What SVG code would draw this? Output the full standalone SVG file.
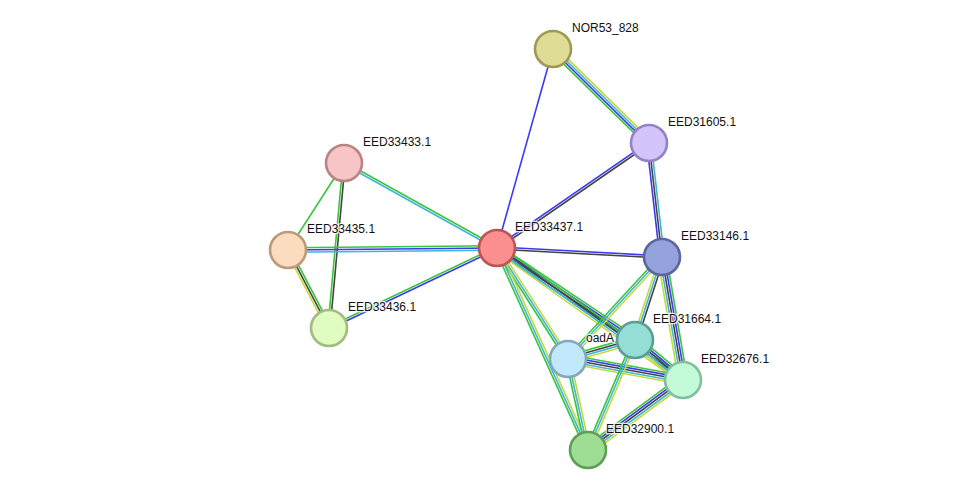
<svg xmlns="http://www.w3.org/2000/svg" width="976" height="496" viewBox="0 0 976 496">
<style>
.e line{stroke-width:1.6;fill:none}
.g{stroke:#3cc43c}
.b{stroke:#3a3af5}
.k{stroke:#444444}
.c{stroke:#3fb6d8}
.y{stroke:#c4d93c}
.n circle{stroke-width:2.6}
.n text{font-family:"Liberation Sans",Arial,sans-serif;font-size:12px;fill:#111;stroke:#fff;stroke-width:2.5;stroke-opacity:0.8;paint-order:stroke;stroke-linejoin:round}
</style>
<rect width="976" height="496" fill="#fff"/>
<g id="connectors" class="e">
  <g transform="translate(553,49) rotate(44.4)"><line class="y" x1="0" y1="-3.3" x2="134.4" y2="-3.3"/><line class="c" x1="0" y1="-1.1" x2="134.4" y2="-1.1"/><line class="b" x1="0" y1="1.1" x2="134.4" y2="1.1"/><line class="g" x1="0" y1="3.3" x2="134.4" y2="3.3"/></g>
  <line class="b" x1="553" y1="49" x2="497" y2="248"/>
  <g transform="translate(497,248) rotate(-34.6)"><line class="b" x1="0" y1="-1.1" x2="184.7" y2="-1.1"/><line class="k" x1="0" y1="1.1" x2="184.7" y2="1.1"/></g>
  <g transform="translate(649,143) rotate(83.5)"><line class="c" x1="0" y1="-2.2" x2="114.7" y2="-2.2"/><line class="k" x1="0" y1="0" x2="114.7" y2="0"/><line class="b" x1="0" y1="2.2" x2="114.7" y2="2.2"/></g>
  <g transform="translate(497,248) rotate(3.1)"><line class="b" x1="0" y1="-1.1" x2="165.2" y2="-1.1"/><line class="k" x1="0" y1="1.1" x2="165.2" y2="1.1"/></g>
  <g transform="translate(344,163) rotate(29.05)"><line class="g" x1="0" y1="-1.1" x2="175" y2="-1.1"/><line class="c" x1="0" y1="1.1" x2="175" y2="1.1"/></g>
  <line class="g" x1="288" y1="250" x2="344" y2="163"/>
  <g transform="translate(329,328) rotate(-84.8)"><line class="g" x1="0" y1="-1.1" x2="165.7" y2="-1.1"/><line class="k" x1="0" y1="1.1" x2="165.7" y2="1.1"/></g>
  <g transform="translate(288,250) rotate(-0.55)"><line class="g" x1="0" y1="-2.2" x2="209" y2="-2.2"/><line class="b" x1="0" y1="0" x2="209" y2="0"/><line class="c" x1="0" y1="2.2" x2="209" y2="2.2"/></g>
  <g transform="translate(288,250) rotate(62.3)"><line class="g" x1="0" y1="-2.2" x2="88.1" y2="-2.2"/><line class="k" x1="0" y1="0" x2="88.1" y2="0"/><line class="y" x1="0" y1="2.2" x2="88.1" y2="2.2"/></g>
  <g transform="translate(329,328) rotate(-25.5)"><line class="g" x1="0" y1="-1.1" x2="186.1" y2="-1.1"/><line class="b" x1="0" y1="1.1" x2="186.1" y2="1.1"/></g>
  <g transform="translate(497,248) rotate(33.7)"><line class="g" x1="0" y1="-3.3" x2="165.9" y2="-3.3"/><line class="b" x1="0" y1="-1.1" x2="165.9" y2="-1.1"/><line class="k" x1="0" y1="1.1" x2="165.9" y2="1.1"/><line class="c" x1="0" y1="3.3" x2="165.9" y2="3.3"/></g>
  <g transform="translate(497,248) rotate(35.4)"><line class="g" x1="0" y1="-3.3" x2="228.1" y2="-3.3"/><line class="k" x1="0" y1="-1.1" x2="228.1" y2="-1.1"/><line class="c" x1="0" y1="1.1" x2="228.1" y2="1.1"/><line class="y" x1="0" y1="3.3" x2="228.1" y2="3.3"/></g>
  <g transform="translate(497,248) rotate(57.4)"><line class="y" x1="0" y1="-2.2" x2="131.8" y2="-2.2"/><line class="c" x1="0" y1="0" x2="131.8" y2="0"/><line class="g" x1="0" y1="2.2" x2="131.8" y2="2.2"/></g>
  <g transform="translate(497,248) rotate(65.75)"><line class="y" x1="0" y1="-2.2" x2="221.6" y2="-2.2"/><line class="c" x1="0" y1="0" x2="221.6" y2="0"/><line class="g" x1="0" y1="2.2" x2="221.6" y2="2.2"/></g>
  <g transform="translate(568,359) rotate(-47.3)"><line class="g" x1="0" y1="-2.2" x2="138.7" y2="-2.2"/><line class="c" x1="0" y1="0" x2="138.7" y2="0"/><line class="y" x1="0" y1="2.2" x2="138.7" y2="2.2"/></g>
  <g transform="translate(635,340) rotate(-72)"><line class="y" x1="0" y1="-2.2" x2="87.3" y2="-2.2"/><line class="c" x1="0" y1="0" x2="87.3" y2="0"/><line class="k" x1="0" y1="2.2" x2="87.3" y2="2.2"/></g>
  <g transform="translate(662,257) rotate(80.3)"><line class="g" x1="0" y1="-4.4" x2="124.8" y2="-4.4"/><line class="b" x1="0" y1="-2.2" x2="124.8" y2="-2.2"/><line class="k" x1="0" y1="0" x2="124.8" y2="0"/><line class="c" x1="0" y1="2.2" x2="124.8" y2="2.2"/><line class="y" x1="0" y1="4.4" x2="124.8" y2="4.4"/></g>
  <g transform="translate(568,359) rotate(-15.8)"><line class="g" x1="0" y1="-3.3" x2="69.6" y2="-3.3"/><line class="k" x1="0" y1="-1.1" x2="69.6" y2="-1.1"/><line class="c" x1="0" y1="1.1" x2="69.6" y2="1.1"/><line class="y" x1="0" y1="3.3" x2="69.6" y2="3.3"/></g>
  <g transform="translate(568,359) rotate(10.35)"><line class="g" x1="0" y1="-4.4" x2="116.9" y2="-4.4"/><line class="b" x1="0" y1="-2.2" x2="116.9" y2="-2.2"/><line class="k" x1="0" y1="0" x2="116.9" y2="0"/><line class="c" x1="0" y1="2.2" x2="116.9" y2="2.2"/><line class="y" x1="0" y1="4.4" x2="116.9" y2="4.4"/></g>
  <g transform="translate(568,359) rotate(77.6)"><line class="y" x1="0" y1="-2.2" x2="93.2" y2="-2.2"/><line class="c" x1="0" y1="0" x2="93.2" y2="0"/><line class="g" x1="0" y1="2.2" x2="93.2" y2="2.2"/></g>
  <g transform="translate(588,450) rotate(-66.9)"><line class="g" x1="0" y1="-2.2" x2="119.6" y2="-2.2"/><line class="c" x1="0" y1="0" x2="119.6" y2="0"/><line class="y" x1="0" y1="2.2" x2="119.6" y2="2.2"/></g>
  <g transform="translate(635,340) rotate(39.8)"><line class="g" x1="0" y1="-4.4" x2="62.5" y2="-4.4"/><line class="b" x1="0" y1="-2.2" x2="62.5" y2="-2.2"/><line class="k" x1="0" y1="0" x2="62.5" y2="0"/><line class="c" x1="0" y1="2.2" x2="62.5" y2="2.2"/><line class="y" x1="0" y1="4.4" x2="62.5" y2="4.4"/></g>
  <g transform="translate(588,450) rotate(-36.4)"><line class="g" x1="0" y1="-4.4" x2="118" y2="-4.4"/><line class="b" x1="0" y1="-2.2" x2="118" y2="-2.2"/><line class="k" x1="0" y1="0" x2="118" y2="0"/><line class="c" x1="0" y1="2.2" x2="118" y2="2.2"/><line class="y" x1="0" y1="4.4" x2="118" y2="4.4"/></g>
</g>
<g id="NOR53_828" class="n"><circle cx="553" cy="49" r="18" fill="#dfdc96" stroke="#9c9a55"/><text x="572" y="32">NOR53_828</text></g>
<g id="EED31605.1" class="n"><circle cx="649" cy="143" r="18" fill="#d4c4fc" stroke="#9482c4"/><text x="668" y="126">EED31605.1</text></g>
<g id="EED33433.1" class="n"><circle cx="344" cy="163" r="18" fill="#f7c5c5" stroke="#b88484"/><text x="363" y="146">EED33433.1</text></g>
<g id="EED33435.1" class="n"><circle cx="288" cy="250" r="18" fill="#fbdcbf" stroke="#bb9a79"/><text x="307" y="233">EED33435.1</text></g>
<g id="EED33437.1" class="n"><circle cx="497" cy="248" r="18" fill="#fb8f8f" stroke="#bb5454"/><text x="515" y="231">EED33437.1</text></g>
<g id="EED33146.1" class="n"><circle cx="662" cy="257" r="18" fill="#96a2dc" stroke="#5a66a0"/><text x="681" y="240">EED33146.1</text></g>
<g id="EED33436.1" class="n"><circle cx="329" cy="328" r="18" fill="#e0fcc0" stroke="#a0bc80"/><text x="348" y="311">EED33436.1</text></g>
<g id="oadA" class="n"><circle cx="568" cy="359" r="18" fill="#c2e8fc" stroke="#82a8bc"/><text x="586" y="342">oadA</text></g>
<g id="EED31664.1" class="n"><circle cx="635" cy="340" r="18" fill="#95ded5" stroke="#5a9f96"/><text x="653" y="323">EED31664.1</text></g>
<g id="EED32676.1" class="n"><circle cx="683" cy="380" r="18" fill="#c3fbd9" stroke="#80c09c"/><text x="701" y="363">EED32676.1</text></g>
<g id="EED32900.1" class="n"><circle cx="588" cy="450" r="18" fill="#9ede94" stroke="#5e9e56"/><text x="606" y="433">EED32900.1</text></g>
</svg>
